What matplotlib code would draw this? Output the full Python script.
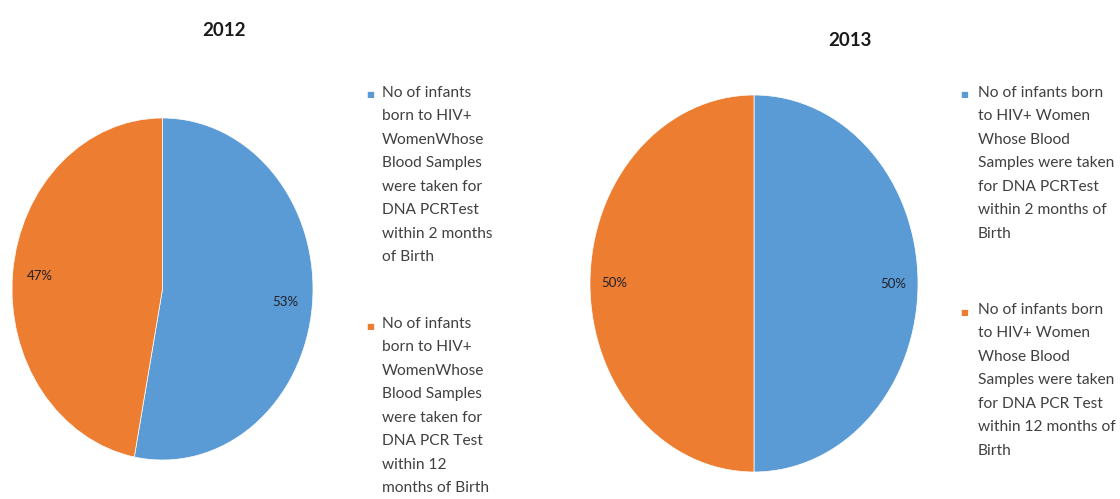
import matplotlib
matplotlib.use("Agg")
import matplotlib.pyplot as plt

# data
years = ["2012", "2013"]
share_2012 = [53, 47]
share_2013 = [50, 50]
colors = ["#5b9bd5", "#ed7d31"]

labels_2012 = [
    "No of infants\nborn to HIV+\nWomenWhose\nBlood Samples\nwere taken for\nDNA PCRTest\nwithin 2 months\nof Birth",
    "No of infants\nborn to HIV+\nWomenWhose\nBlood Samples\nwere taken for\nDNA PCR Test\nwithin 12\nmonths of Birth",
]
labels_2013 = [
    "No of infants born\nto HIV+ Women\nWhose Blood\nSamples were taken\nfor DNA PCRTest\nwithin 2 months of\nBirth",
    "No of infants born\nto HIV+ Women\nWhose Blood\nSamples were taken\nfor DNA PCR Test\nwithin 12 months of\nBirth",
]

plt.rcParams["font.family"] = ["Lato", "DejaVu Sans"]

W, H = 1120, 499
fig = plt.figure(figsize=(W / 100, H / 100), dpi=100)


def px_axes(left, top, width, height):
    return fig.add_axes([left / W, 1 - (top + height) / H, width / W, height / H])


def draw_pie(ax, vals, pctdist):
    ax.pie(
        vals, colors=colors, startangle=90, counterclock=False,
        autopct=lambda p: f"{p:.0f}%", pctdistance=pctdist,
        wedgeprops=dict(edgecolor="white", linewidth=0.5),
        textprops=dict(fontsize=9.5, color="#1f1f2a"),
    )
    ax.set_aspect("auto")
    ax.set_xlim(-1.0, 1.0)
    ax.set_ylim(-1.0, 1.0)
    ax.axis("off")


def draw_legend(x_sq, x_txt, ys, labels):
    for y, lab, c in zip(ys, labels, colors):
        fig.text(x_sq / W, 1 - y / H, "■", color=c, fontsize=6,
                 ha="left", va="center", family="DejaVu Sans")
        fig.text(x_txt / W, 1 - (y - 9) / H, lab, color="#404040", fontsize=11.2,
                 ha="left", va="top", linespacing=1.86)


ax1 = px_axes(12, 118, 301, 342)
draw_pie(ax1, share_2012, 0.82)
fig.text(224 / W, 1 - 30 / H, years[0], ha="center", va="center",
         fontsize=13.5, fontweight="bold", color="#1a1a1a")
draw_legend(366, 382, [95, 326], labels_2012)

ax2 = px_axes(590, 95, 328, 377)
draw_pie(ax2, share_2013, 0.85)
fig.text(850 / W, 1 - 40 / H, years[1], ha="center", va="center",
         fontsize=13.5, fontweight="bold", color="#1a1a1a")
draw_legend(960, 978, [95, 312], labels_2013)

fig.savefig("out.png", dpi=100, facecolor="white")
